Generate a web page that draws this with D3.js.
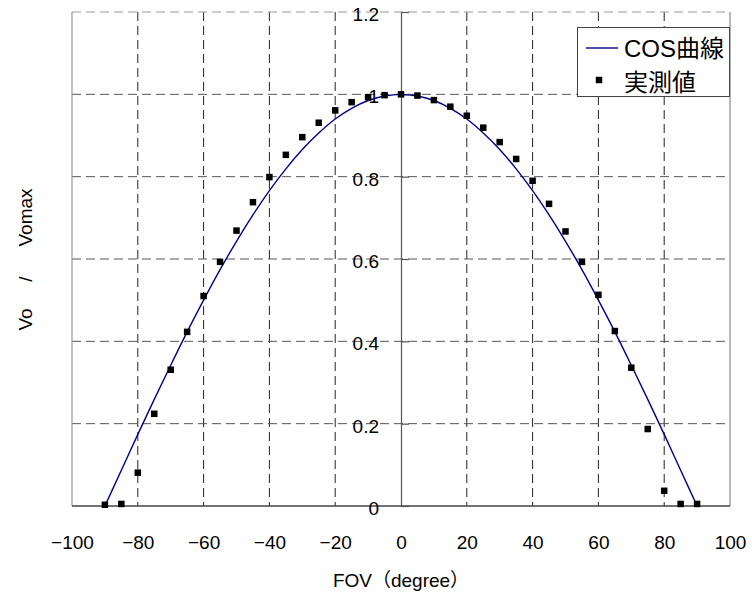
<!DOCTYPE html>
<html>
<head>
<meta charset="utf-8">
<script src="https://cdn.jsdelivr.net/npm/d3@7"></script>
<style>
  body { margin: 0; background: #fff; }
  text { font-family: "Liberation Sans", "Noto Sans CJK JP", sans-serif; fill: #000; }
</style>
</head>
<body>
<svg id="chart" width="752" height="598"></svg>
<script>
// measured points (FOV in degree, Vo/Vomax)
const fovDeg = [-90, -85, -80, -75, -70, -65, -60, -55, -50, -45, -40, -35, -30, -25, -20, -15, -10, -5,
  0, 5, 10, 15, 20, 25, 30, 35, 40, 45, 50, 55, 60, 65, 70, 75, 80, 85, 90];
const measured = [0.003, 0.005, 0.081, 0.224, 0.331, 0.423, 0.510, 0.593, 0.669, 0.738, 0.799, 0.853, 0.896, 0.931, 0.961, 0.981, 0.993, 0.998,
  1.0, 0.997, 0.986, 0.970, 0.948, 0.919, 0.884, 0.843, 0.790, 0.734, 0.667, 0.593, 0.513, 0.425, 0.336, 0.187, 0.037, 0.005, 0.005];

// cos curve
const curveDeg = [-90, -85, -80, -75, -70, -65, -60, -55, -50, -45, -40, -35, -30, -25, -20, -15, -10, -5,
  0, 5, 10, 15, 20, 25, 30, 35, 40, 45, 50, 55, 60, 65, 70, 75, 80, 85, 90];
const curveVal = [0, 0.087, 0.174, 0.259, 0.342, 0.423, 0.5, 0.574, 0.643, 0.707, 0.766, 0.819, 0.866, 0.906, 0.940, 0.966, 0.985, 0.996,
  1.0, 0.996, 0.985, 0.966, 0.940, 0.906, 0.866, 0.819, 0.766, 0.707, 0.643, 0.574, 0.5, 0.423, 0.342, 0.259, 0.174, 0.087, 0];

const xTicks = [-100, -80, -60, -40, -20, 0, 20, 40, 60, 80, 100];
const yTicks = [0, 0.2, 0.4, 0.6, 0.8, 1, 1.2];

const seriesNames = ["COS曲線", "実測値"];

const svg = d3.select("#chart");
const pLeft = 72, pRight = 730, pTop = 12, pBottom = 506;

const x = d3.scaleLinear().domain([-100, 100]).range([pLeft, pRight]);
const y = d3.scaleLinear().domain([0, 1.2]).range([pBottom, pTop]);

// grid
const grid = svg.append("g");
grid.selectAll(".vg").data(xTicks.filter(d => d !== 0 && d !== -100 && d !== 100)).enter()
  .append("line")
  .attr("x1", d => x(d)).attr("x2", d => x(d))
  .attr("y1", pTop).attr("y2", pBottom)
  .attr("stroke", "#222").attr("stroke-width", 1)
  .attr("stroke-dasharray", "9,5");
grid.selectAll(".hg").data(yTicks.filter(d => d !== 0)).enter()
  .append("line")
  .attr("x1", pLeft).attr("x2", pRight)
  .attr("y1", d => y(d)).attr("y2", d => y(d))
  .attr("stroke", d => d === 1.2 ? "#999" : "#555").attr("stroke-width", 1)
  .attr("stroke-dasharray", "9,5");

// left / right borders
svg.append("line").attr("x1", pLeft).attr("x2", pLeft).attr("y1", pTop).attr("y2", pBottom)
  .attr("stroke", "#999").attr("stroke-width", 1.2);
svg.append("line").attr("x1", pRight).attr("x2", pRight).attr("y1", pTop).attr("y2", pBottom)
  .attr("stroke", "#888").attr("stroke-width", 1.2);

// x axis line at y=0
svg.append("line").attr("x1", pLeft).attr("x2", pRight).attr("y1", y(0)).attr("y2", y(0))
  .attr("stroke", "#444").attr("stroke-width", 1.3);

// y axis at x=0
const yAxis = d3.axisLeft(y).tickValues(yTicks).tickFormat(d3.format("~g"))
  .tickSizeInner(-8).tickSizeOuter(0).tickPadding(22);
const ya = svg.append("g").attr("transform", `translate(${x(0)},0)`).call(yAxis);
ya.select(".domain").attr("stroke", "#555").attr("stroke-width", 1.2);
ya.selectAll(".tick line").attr("stroke", "#555").attr("stroke-width", 1.2);
ya.selectAll(".tick text")
  .attr("font-size", 19).attr("font-family", "'Liberation Sans', sans-serif")
  .attr("dy", "0.45em").attr("x", -22).attr("fill", "#000");

// x tick labels
const xAxis = d3.axisBottom(x).tickValues(xTicks).tickFormat(d => d < 0 ? "−" + Math.abs(d) : d)
  .tickSize(0).tickPadding(30);
const xa = svg.append("g").attr("transform", `translate(0,${pBottom})`).call(xAxis);
xa.select(".domain").remove();
xa.selectAll(".tick text")
  .attr("font-size", 19).attr("font-family", "'Liberation Sans', sans-serif").attr("fill", "#000");

// cos curve
const pts = curveDeg.map((d, i) => [d, curveVal[i]]);
svg.append("path")
  .datum(pts)
  .attr("fill", "none")
  .attr("stroke", "#00008b")
  .attr("stroke-width", 1.4)
  .attr("d", d3.line().x(d => x(d[0])).y(d => y(d[1])).curve(d3.curveMonotoneX));

// measured points
const sq = 6.5;
svg.selectAll(".pt").data(fovDeg.map((d, i) => [d, measured[i]])).enter()
  .append("rect")
  .attr("x", d => x(d[0]) - sq / 2)
  .attr("y", d => y(d[1]) - sq / 2)
  .attr("width", sq).attr("height", sq)
  .attr("fill", "#000");

// legend
const lg = svg.append("g");
lg.append("rect").attr("x", 577.5).attr("y", 27.5).attr("width", 152).attr("height", 69)
  .attr("fill", "#fff").attr("stroke", "#444").attr("stroke-width", 1);
lg.append("line").attr("x1", 586).attr("x2", 618).attr("y1", 48).attr("y2", 48)
  .attr("stroke", "#00008b").attr("stroke-width", 1.4);
lg.append("rect").attr("x", 599 - sq / 2).attr("y", 80 - sq / 2).attr("width", sq).attr("height", sq).attr("fill", "#000");
lg.append("text").attr("x", 624).attr("y", 57).attr("font-size", 24).text(seriesNames[0]);
lg.append("text").attr("x", 624).attr("y", 91).attr("font-size", 24).text(seriesNames[1]);

// axis titles
svg.append("text").attr("x", 401).attr("y", 587).attr("text-anchor", "middle")
  .attr("font-size", 19).text("FOV（degree）");
const yl = svg.append("g").attr("transform", "translate(32,0) rotate(-90)");
yl.append("text").attr("x", -319.5).attr("text-anchor", "middle").attr("font-size", 19).text("Vo");
yl.append("text").attr("x", -279).attr("text-anchor", "middle").attr("font-size", 19).text("/");
yl.append("text").attr("x", -217.5).attr("text-anchor", "middle").attr("font-size", 19).text("Vomax");
</script>
</body>
</html>
